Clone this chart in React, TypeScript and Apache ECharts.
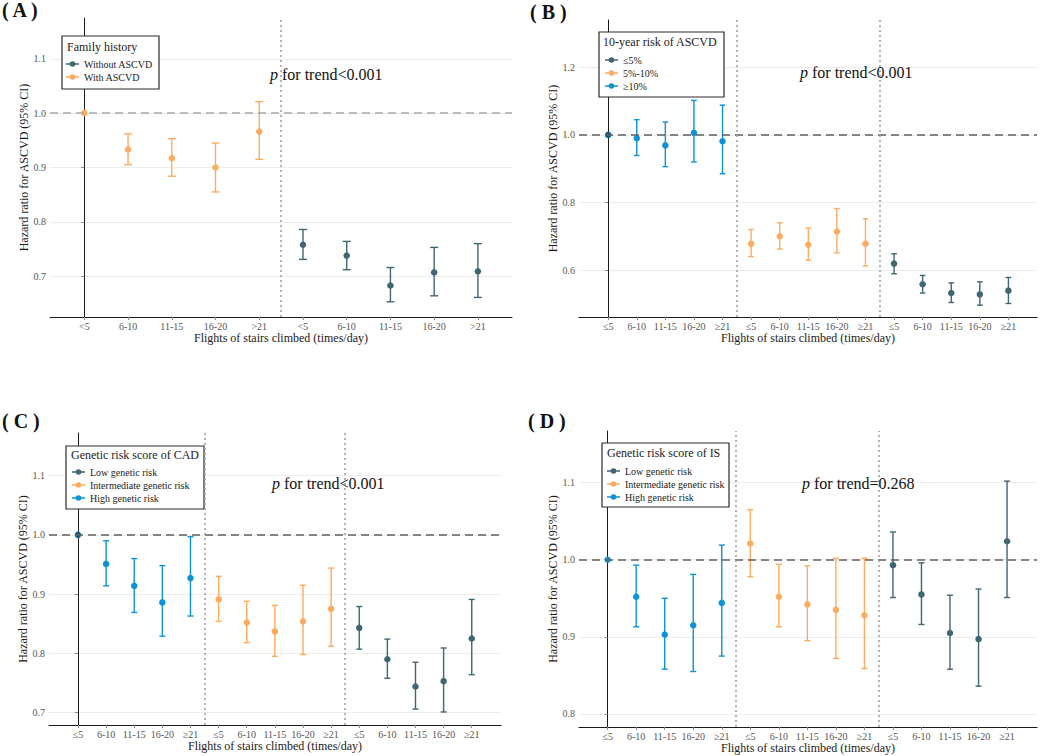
import React, { useEffect, useRef } from "react";
import * as echarts from "echarts";

const FONT = "Liberation Serif, serif";
const TEAL = "#3f6673";
const ORANGE = "#fdab5e";
const BLUE = "#0d92d5";

// tick labels
const catsA = ["<5", "6-10", "11-15", "16-20", ">21"];
const catsR = ["≤5", "6-10", "11-15", "16-20", "≥21"];

// Panel A: family history
const aWithHR = [1.0, 0.933, 0.917, 0.9, 0.966];
const aWithLo = [null, 0.905, 0.884, 0.855, 0.915];
const aWithHi = [null, 0.962, 0.953, 0.945, 1.021];
const aWithoutHR = [0.758, 0.738, 0.683, 0.707, 0.709];
const aWithoutLo = [0.731, 0.712, 0.653, 0.664, 0.661];
const aWithoutHi = [0.786, 0.764, 0.716, 0.753, 0.76];

// Panel B: 10-year risk of ASCVD
const bHighHR = [1.0, 0.99, 0.969, 1.006, 0.981];
const bHighLo = [null, 0.939, 0.906, 0.92, 0.885];
const bHighHi = [null, 1.045, 1.038, 1.102, 1.088];
const bMidHR = [0.678, 0.7, 0.675, 0.714, 0.678];
const bMidLo = [0.64, 0.662, 0.629, 0.651, 0.612];
const bMidHi = [0.72, 0.74, 0.724, 0.782, 0.752];
const bLowHR = [0.619, 0.558, 0.532, 0.528, 0.539];
const bLowLo = [0.589, 0.532, 0.504, 0.496, 0.501];
const bLowHi = [0.648, 0.584, 0.562, 0.565, 0.578];

// Panel C: genetic risk score of CAD
const cHighHR = [1.0, 0.951, 0.914, 0.886, 0.927];
const cHighLo = [null, 0.914, 0.869, 0.829, 0.863];
const cHighHi = [null, 0.99, 0.96, 0.948, 0.997];
const cMidHR = [0.891, 0.852, 0.837, 0.854, 0.875];
const cMidLo = [0.854, 0.818, 0.795, 0.798, 0.812];
const cMidHi = [0.93, 0.888, 0.881, 0.915, 0.944];
const cLowHR = [0.843, 0.79, 0.744, 0.753, 0.825];
const cLowLo = [0.807, 0.758, 0.706, 0.701, 0.764];
const cLowHi = [0.879, 0.824, 0.785, 0.809, 0.891];

// Panel D: genetic risk score of IS
const dHighHR = [1.0, 0.952, 0.903, 0.915, 0.944];
const dHighLo = [null, 0.913, 0.858, 0.855, 0.875];
const dHighHi = [null, 0.993, 0.95, 0.981, 1.019];
const dMidHR = [1.021, 0.952, 0.942, 0.935, 0.928];
const dMidLo = [0.978, 0.913, 0.895, 0.872, 0.859];
const dMidHi = [1.065, 0.994, 0.992, 1.002, 1.002];
const dLowHR = [0.993, 0.955, 0.905, 0.897, 1.024];
const dLowLo = [0.951, 0.916, 0.858, 0.836, 0.951];
const dLowHi = [1.036, 0.996, 0.954, 0.962, 1.102];

const yTicksA = [0.7, 0.8, 0.9, 1.0, 1.1];
const yTicksB = [0.6, 0.8, 1.0, 1.2];
const yTicksC = [0.7, 0.8, 0.9, 1.0, 1.1];
const yTicksD = [0.8, 0.9, 1.0, 1.1];

const trendA = "<0.001";
const trendB = "<0.001";
const trendC = "<0.001";
const trendD = "=0.268";

type Group = {
  name: string;
  color: string;
  hr: number[];
  lo: (number | null)[];
  hi: (number | null)[];
};

type Panel = {
  label: string;
  cats: string[];
  groups: Group[];
  legendTitle: string;
  legendOrder: string[];
  trend: string;
  yTicks: number[];
  grid: { left: number; top: number; width: number; height: number };
  xMin: number;
  xMax: number;
  yMin: number;
  yMax: number;
  refColor: string;
  refPointColor: string | null;
  cap: number;
  box: { x: number; y: number; w: number; h: number };
  legendPos: { left: number; top: number };
  titlePos: { x: number; y: number };
  trendPos: { x: number; y: number };
  labelPos: { x: number; y: number };
};

const panels: Panel[] = [
  {
    label: "( A )",
    cats: catsA,
    groups: [
      { name: "With ASCVD", color: ORANGE, hr: aWithHR, lo: aWithLo, hi: aWithHi },
      { name: "Without ASCVD", color: TEAL, hr: aWithoutHR, lo: aWithoutLo, hi: aWithoutHi },
    ],
    legendTitle: "Family history",
    legendOrder: ["Without ASCVD", "With ASCVD"],
    trend: trendA,
    yTicks: yTicksA,
    grid: { left: 50, top: 18, width: 462, height: 299 },
    xMin: -0.785,
    xMax: 9.78,
    yMin: 0.625,
    yMax: 1.175,
    refColor: "#a8a8a8",
    refPointColor: null,
    cap: 4,
    box: { x: 62, y: 36, w: 97, h: 53 },
    legendPos: { left: 66, top: 58 },
    titlePos: { x: 67, y: 47 },
    trendPos: { x: 270, y: 74 },
    labelPos: { x: 2, y: 10 },
  },
  {
    label: "( B )",
    cats: catsR,
    groups: [
      { name: "≥10%", color: BLUE, hr: bHighHR, lo: bHighLo, hi: bHighHi },
      { name: "5%-10%", color: ORANGE, hr: bMidHR, lo: bMidLo, hi: bMidHi },
      { name: "≤5%", color: TEAL, hr: bLowHR, lo: bLowLo, hi: bLowHi },
    ],
    legendTitle: "10-year risk of ASCVD",
    legendOrder: ["≤5%", "5%-10%", "≥10%"],
    trend: trendB,
    yTicks: yTicksB,
    grid: { left: 579, top: 20, width: 458, height: 297 },
    xMin: -1.02,
    xMax: 15.0,
    yMin: 0.461,
    yMax: 1.34,
    refColor: "#606060",
    refPointColor: "#0b5f8e",
    cap: 2.8,
    box: { x: 599, y: 32, w: 125, h: 65 },
    legendPos: { left: 605, top: 54 },
    titlePos: { x: 603, y: 42 },
    trendPos: { x: 800, y: 72 },
    labelPos: { x: 530, y: 12 },
  },
  {
    label: "( C )",
    cats: catsR,
    groups: [
      { name: "High genetic risk", color: BLUE, hr: cHighHR, lo: cHighLo, hi: cHighHi },
      { name: "Intermediate genetic risk", color: ORANGE, hr: cMidHR, lo: cMidLo, hi: cMidHi },
      { name: "Low genetic risk", color: TEAL, hr: cLowHR, lo: cLowLo, hi: cLowHi },
    ],
    legendTitle: "Genetic risk score of CAD",
    legendOrder: ["Low genetic risk", "Intermediate genetic risk", "High genetic risk"],
    trend: trendC,
    yTicks: yTicksC,
    grid: { left: 49, top: 433, width: 452, height: 292 },
    xMin: -1.03,
    xMax: 15.04,
    yMin: 0.679,
    yMax: 1.172,
    refColor: "#606060",
    refPointColor: "#0b5f8e",
    cap: 3,
    box: { x: 66, y: 446, w: 138, h: 63 },
    legendPos: { left: 72, top: 466 },
    titlePos: { x: 71, y: 455 },
    trendPos: { x: 272, y: 483 },
    labelPos: { x: 2, y: 421 },
  },
  {
    label: "( D )",
    cats: catsR,
    groups: [
      { name: "High genetic risk", color: BLUE, hr: dHighHR, lo: dHighLo, hi: dHighHi },
      { name: "Intermediate genetic risk", color: ORANGE, hr: dMidHR, lo: dMidLo, hi: dMidHi },
      { name: "Low genetic risk", color: TEAL, hr: dLowHR, lo: dLowLo, hi: dLowHi },
    ],
    legendTitle: "Genetic risk score of IS",
    legendOrder: ["Low genetic risk", "Intermediate genetic risk", "High genetic risk"],
    trend: trendD,
    yTicks: yTicksD,
    grid: { left: 579, top: 431, width: 458, height: 296 },
    xMin: -1.005,
    xMax: 15.05,
    yMin: 0.783,
    yMax: 1.167,
    refColor: "#606060",
    refPointColor: null,
    cap: 3,
    box: { x: 602, y: 443, w: 127, h: 64 },
    legendPos: { left: 607, top: 465 },
    titlePos: { x: 607, y: 453 },
    trendPos: { x: 802, y: 483 },
    labelPos: { x: 528, y: 421 },
  },
];

const LEGEND_ICON =
  "path://M0 4.2H13V5.8H0Z M6.5 2.2A2.8 2.8 0 1 1 6.5 7.8A2.8 2.8 0 1 1 6.5 2.2Z";

function buildOption() {
  const grid: any[] = [];
  const xAxis: any[] = [];
  const yAxis: any[] = [];
  const series: any[] = [];
  const legend: any[] = [];
  const graphic: any[] = [];

  panels.forEach((p, pi) => {
    const labels: string[] = [];
    p.groups.forEach(() => p.cats.forEach((c) => labels.push(c)));
    const tickPos = labels.map((_, i) => i);

    grid.push({ ...p.grid, outerBoundsMode: "none", containLabel: false });
    xAxis.push({
      type: "value",
      gridIndex: pi,
      min: p.xMin,
      max: p.xMax,
      name: "Flights of stairs climbed (times/day)",
      nameLocation: "middle",
      nameGap: 15,
      nameTextStyle: { fontFamily: FONT, fontSize: 12, color: "#1a1a1a" },
      axisLine: { show: true, lineStyle: { color: "#1a1a1a", width: 1 } },
      axisTick: { show: true, length: 3, customValues: tickPos, lineStyle: { color: "#8a8a8a" } },
      axisLabel: {
        customValues: tickPos,
        formatter: (v: number) => labels[Math.round(v)] ?? "",
        fontFamily: FONT,
        fontSize: 10,
        color: "#555555",
        margin: 4,
        hideOverlap: false,
      },
      splitLine: { show: false },
    });
    yAxis.push({
      type: "value",
      gridIndex: pi,
      min: p.yMin,
      max: p.yMax,
      name: "Hazard ratio for ASCVD (95% CI)",
      nameLocation: "middle",
      nameGap: 20,
      nameTextStyle: { fontFamily: FONT, fontSize: 12, color: "#1a1a1a" },
      axisLine: { show: true, lineStyle: { color: "#1a1a1a", width: 1 } },
      axisTick: { show: true, length: 3, customValues: p.yTicks, lineStyle: { color: "#8a8a8a" } },
      axisLabel: {
        customValues: p.yTicks,
        formatter: (v: number) => v.toFixed(1),
        fontFamily: FONT,
        fontSize: 10,
        color: "#555555",
        margin: 4,
      },
      splitLine: { show: true, lineStyle: { color: "#ececec", width: 1 } },
    });

    const vlines: number[] = [];
    for (let k = 1; k < p.groups.length; k++) vlines.push(k * p.cats.length - 0.5);

    p.groups.forEach((g, gi) => {
      const offset = gi * p.cats.length;
      const ciData: number[][] = [];
      g.hr.forEach((_, i) => {
        const lo = g.lo[i];
        const hi = g.hi[i];
        if (lo != null && hi != null) ciData.push([offset + i, lo, hi]);
      });
      const cap = p.cap;
      const color = g.color;
      const ci: any = {
        type: "custom",
        name: `${p.label}-ci-${g.name}`,
        xAxisIndex: pi,
        yAxisIndex: pi,
        z: 2,
        data: ciData,
        encode: { x: 0, y: [1, 2] },
        renderItem: (params: any, api: any) => {
          const x = api.value(0);
          const a = api.coord([x, api.value(1)]);
          const b = api.coord([x, api.value(2)]);
          const style = { stroke: color, lineWidth: 1.4, fill: "none" };
          return {
            type: "group",
            children: [
              { type: "line", shape: { x1: a[0], y1: a[1], x2: b[0], y2: b[1] }, style },
              { type: "line", shape: { x1: a[0] - cap, y1: a[1], x2: a[0] + cap, y2: a[1] }, style },
              { type: "line", shape: { x1: b[0] - cap, y1: b[1], x2: b[0] + cap, y2: b[1] }, style },
            ],
          };
        },
      };
      if (gi === 0) {
        ci.markLine = {
          silent: true,
          symbol: "none",
          label: { show: false },
          animation: false,
          data: [
            { yAxis: 1, lineStyle: { color: p.refColor, type: [8, 5], width: 1.5 } },
            ...vlines.map((v) => ({
              xAxis: v,
              lineStyle: { color: "#a0a0a0", type: [2, 3], width: 1.6 },
            })),
          ],
        };
      }
      series.push(ci);
      series.push({
        type: "scatter",
        name: g.name,
        xAxisIndex: pi,
        yAxisIndex: pi,
        z: 3,
        symbol: "circle",
        symbolSize: 6.5,
        itemStyle: { color: g.color, opacity: 1 },
        data: g.hr.map((v, i) => {
          const isRef = g.lo[i] == null && gi === 0 && p.refPointColor;
          return isRef
            ? { value: [offset + i, v], itemStyle: { color: p.refPointColor } }
            : [offset + i, v];
        }),
      });
    });

    legend.push({
      orient: "vertical",
      left: p.legendPos.left,
      top: p.legendPos.top,
      padding: 0,
      itemGap: 1,
      itemWidth: 13,
      itemHeight: 5.6,
      icon: LEGEND_ICON,
      selectedMode: false,
      z: 6,
      data: p.legendOrder,
      textStyle: { fontFamily: FONT, fontSize: 10, color: "#1a1a1a", lineHeight: 12, padding: [0, 0, 0, 0] },
    });

    graphic.push({
      type: "rect",
      z: 5,
      shape: { x: p.box.x, y: p.box.y, width: p.box.w, height: p.box.h },
      style: { fill: "#ffffff", stroke: "#2a2a2a", lineWidth: 1.2 },
    });
    graphic.push({
      type: "text",
      z: 7,
      x: p.titlePos.x,
      y: p.titlePos.y,
      style: {
        text: p.legendTitle,
        fontFamily: FONT,
        fontSize: 12,
        fill: "#1a1a1a",
        verticalAlign: "middle",
      },
    });
    graphic.push({
      type: "text",
      z: 7,
      x: p.trendPos.x,
      y: p.trendPos.y,
      style: {
        text: `{i|p} for trend${p.trend}`,
        fontFamily: FONT,
        fontSize: 16,
        fill: "#111111",
        verticalAlign: "middle",
        rich: { i: { fontStyle: "italic", fontFamily: FONT, fontSize: 16, fill: "#111111" } },
      },
    });
    graphic.push({
      type: "text",
      z: 7,
      x: p.labelPos.x,
      y: p.labelPos.y,
      style: {
        text: p.label,
        fontFamily: FONT,
        fontSize: 20,
        fontWeight: "bold",
        fill: "#111111",
        verticalAlign: "middle",
      },
    });
  });

  return {
    animation: false,
    backgroundColor: "#ffffff",
    textStyle: { fontFamily: FONT },
    grid,
    xAxis,
    yAxis,
    series,
    legend,
    graphic,
  };
}

export default function App() {
  const ref = useRef<HTMLDivElement>(null);
  useEffect(() => {
    document.body.style.margin = "0";
    if (!ref.current) return;
    const chart = echarts.init(ref.current, null, { renderer: "svg" });
    chart.setOption(buildOption() as any);
    return () => chart.dispose();
  }, []);
  return <div ref={ref} style={{ width: 1040, height: 756 }} />;
}
